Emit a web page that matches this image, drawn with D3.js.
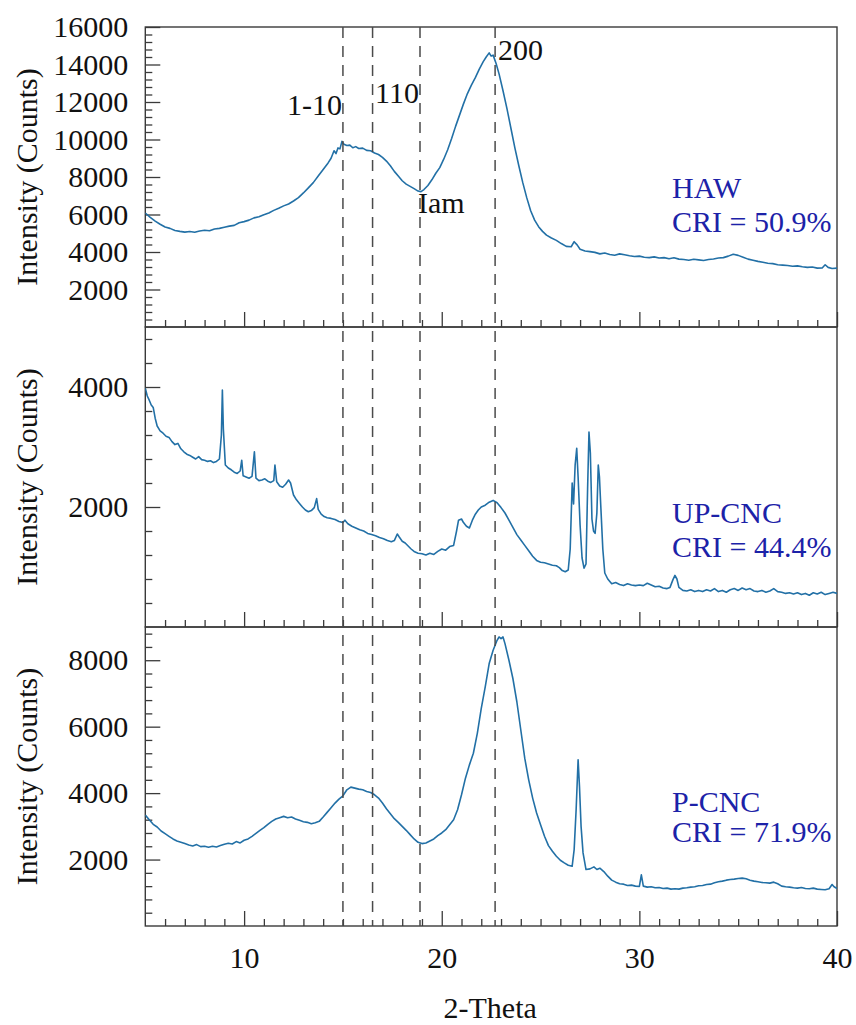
<!DOCTYPE html>
<html><head><meta charset="utf-8">
<script src="https://cdn.jsdelivr.net/npm/d3@7"></script>
<style>
body{margin:0;background:#fff;}
svg text{font-family:"Liberation Serif","Times New Roman",serif !important;}
</style></head>
<body><svg id="c" width="856" height="1025"></svg>
<script>
// ---------- data (2-Theta, Intensity counts) ----------
const hawData = [
[5.0,6080],[5.25,5850],[5.5,5650],[5.75,5480],[6.0,5330],[6.25,5260],[6.5,5150],[6.75,5100],[7.0,5060],[7.25,5090],
[7.5,5050],[7.75,5120],[8.0,5160],[8.25,5130],[8.5,5230],[8.75,5260],[9.0,5320],[9.25,5380],[9.5,5420],[9.75,5560],
[10.0,5620],[10.25,5700],[10.5,5820],[10.75,5880],[11.0,5990],[11.25,6080],[11.5,6220],[11.75,6330],[12.0,6460],[12.25,6560],
[12.5,6720],[12.75,6900],[13.0,7150],[13.25,7420],[13.5,7700],[13.75,8050],[14.0,8400],[14.25,8750],[14.4,9000],[14.55,9400],
[14.65,9250],[14.75,9550],[14.85,9500],[14.95,9900],[15.05,9750],[15.2,9680],[15.35,9700],[15.5,9560],[15.65,9620],[15.8,9520],
[16.0,9540],[16.2,9420],[16.4,9400],[16.6,9280],[16.8,9200],[17.0,9050],[17.2,8850],[17.4,8600],[17.6,8300],[17.8,8050],
[18.0,7800],[18.2,7620],[18.4,7500],[18.6,7380],[18.8,7250],[18.95,7220],[19.1,7330],[19.3,7550],[19.5,7850],[19.7,8200],
[19.9,8500],[20.1,8950],[20.3,9450],[20.5,10050],[20.7,10700],[20.9,11300],[21.1,11900],[21.3,12450],[21.5,12900],[21.7,13300],
[21.9,13750],[22.1,14150],[22.25,14400],[22.4,14620],[22.5,14450],[22.6,14500],[22.75,14050],[22.9,13500],[23.1,12600],[23.3,11650],
[23.5,10600],[23.7,9550],[23.9,8600],[24.1,7700],[24.3,6900],[24.5,6200],[24.7,5700],[24.9,5350],[25.1,5100],[25.3,4900],
[25.55,4750],[25.8,4620],[26.05,4450],[26.3,4300],[26.55,4280],[26.7,4550],[26.85,4380],[27.0,4150],[27.25,4050],[27.5,4020],
[27.75,3980],[28.0,3900],[28.25,3950],[28.5,3870],[28.75,3830],[29.0,3900],[29.25,3850],[29.5,3800],[29.75,3760],[30.0,3780],
[30.25,3720],[30.5,3700],[30.75,3740],[31.0,3680],[31.25,3700],[31.5,3640],[31.75,3690],[32.0,3620],[32.25,3600],[32.5,3560],
[32.75,3610],[33.0,3580],[33.25,3550],[33.5,3600],[33.75,3630],[34.0,3680],[34.25,3700],[34.5,3780],[34.75,3880],[35.0,3820],
[35.25,3720],[35.5,3620],[35.75,3560],[36.0,3500],[36.25,3450],[36.5,3400],[36.75,3380],[37.0,3320],[37.25,3300],[37.5,3280],
[37.75,3240],[38.0,3260],[38.25,3210],[38.5,3180],[38.75,3200],[39.0,3140],[39.25,3150],[39.4,3320],[39.55,3180],[39.75,3120],[40.0,3140]
];
const upData = [
[5.0,3980],[5.1,3850],[5.2,3780],[5.3,3700],[5.4,3660],[5.5,3480],[5.6,3350],[5.75,3270],[5.9,3230],[6.05,3180],
[6.2,3160],[6.35,3090],[6.5,3040],[6.65,3060],[6.8,2970],[6.95,2920],[7.1,2880],[7.25,2860],[7.4,2830],[7.55,2800],
[7.7,2840],[7.85,2790],[8.0,2780],[8.15,2760],[8.3,2770],[8.45,2740],[8.6,2760],[8.75,2800],[8.85,3200],[8.9,3950],
[8.95,3300],[9.05,2700],[9.2,2650],[9.35,2620],[9.5,2580],[9.65,2560],[9.8,2600],[9.88,2780],[9.95,2520],[10.1,2500],
[10.25,2480],[10.4,2510],[10.52,2920],[10.6,2480],[10.75,2440],[10.9,2450],[11.05,2470],[11.2,2430],[11.35,2410],[11.5,2440],
[11.56,2700],[11.65,2420],[11.8,2350],[11.95,2330],[12.1,2380],[12.25,2450],[12.35,2400],[12.5,2200],[12.65,2120],[12.8,2060],
[12.95,2000],[13.1,1950],[13.25,1920],[13.4,1940],[13.55,1990],[13.67,2140],[13.75,1960],[13.9,1880],[14.05,1840],[14.2,1820],
[14.4,1810],[14.6,1790],[14.8,1760],[15.0,1740],[15.1,1780],[15.25,1720],[15.45,1680],[15.65,1650],[15.85,1620],[16.05,1600],
[16.25,1560],[16.45,1540],[16.65,1520],[16.85,1490],[17.05,1470],[17.25,1440],[17.45,1420],[17.6,1440],[17.75,1550],[17.85,1500],
[18.0,1430],[18.15,1400],[18.3,1350],[18.45,1300],[18.6,1260],[18.8,1230],[19.0,1220],[19.2,1200],[19.4,1230],[19.6,1210],
[19.8,1260],[20.0,1300],[20.2,1280],[20.4,1340],[20.6,1360],[20.75,1600],[20.85,1780],[21.0,1800],[21.1,1740],[21.25,1680],
[21.4,1650],[21.55,1780],[21.7,1880],[21.85,1950],[22.0,2000],[22.2,2030],[22.4,2080],[22.6,2110],[22.8,2070],[23.0,1990],
[23.2,1900],[23.4,1780],[23.6,1660],[23.8,1540],[24.0,1450],[24.2,1360],[24.4,1270],[24.6,1180],[24.8,1110],[25.0,1080],
[25.2,1070],[25.4,1050],[25.6,1030],[25.8,1020],[25.95,990],[26.1,940],[26.25,920],[26.4,950],[26.5,1300],[26.6,2400],
[26.67,2050],[26.75,2700],[26.83,2980],[26.9,2500],[27.0,1700],[27.1,1150],[27.2,980],[27.3,1050],[27.38,2300],[27.45,3250],
[27.52,2900],[27.6,1800],[27.68,1600],[27.76,1560],[27.85,1900],[27.92,2700],[27.98,2500],[28.05,2000],[28.15,1300],[28.25,900],
[28.4,800],[28.6,720],[28.8,740],[29.0,710],[29.2,690],[29.4,720],[29.6,700],[29.8,690],[30.0,700],[30.2,690],
[30.4,730],[30.6,700],[30.8,670],[31.0,680],[31.2,650],[31.4,640],[31.55,660],[31.7,790],[31.8,860],[31.9,800],
[32.0,660],[32.2,610],[32.4,600],[32.6,620],[32.8,590],[33.0,610],[33.2,590],[33.4,620],[33.6,600],[33.8,640],
[34.0,590],[34.2,610],[34.4,580],[34.6,620],[34.8,640],[35.0,610],[35.2,650],[35.4,620],[35.6,640],[35.8,600],
[36.0,590],[36.2,610],[36.4,580],[36.6,600],[36.8,640],[37.0,590],[37.2,580],[37.4,560],[37.6,570],[37.8,550],
[38.0,570],[38.2,540],[38.4,560],[38.6,530],[38.8,570],[39.0,550],[39.2,580],[39.4,540],[39.6,560],[39.8,580],[40.0,560]
];
const pData = [
[5.0,3340],[5.2,3200],[5.4,3060],[5.6,2980],[5.8,2860],[6.0,2780],[6.2,2700],[6.4,2620],[6.6,2560],[6.8,2520],
[7.0,2480],[7.2,2440],[7.4,2410],[7.6,2450],[7.8,2390],[8.0,2400],[8.2,2370],[8.4,2400],[8.6,2380],[8.8,2420],
[9.0,2460],[9.2,2490],[9.4,2470],[9.6,2540],[9.8,2500],[10.0,2580],[10.2,2620],[10.4,2700],[10.6,2790],[10.8,2880],
[11.0,2960],[11.2,3060],[11.4,3150],[11.6,3220],[11.8,3260],[12.0,3300],[12.2,3260],[12.4,3280],[12.6,3220],[12.8,3180],
[13.0,3140],[13.2,3120],[13.4,3080],[13.6,3110],[13.8,3150],[14.0,3280],[14.2,3420],[14.4,3560],[14.6,3700],[14.8,3820],
[15.0,3920],[15.2,4100],[15.4,4180],[15.6,4150],[15.8,4120],[16.0,4100],[16.2,4050],[16.4,4020],[16.6,3950],[16.8,3850],
[17.0,3700],[17.2,3530],[17.4,3380],[17.6,3230],[17.8,3120],[18.0,3000],[18.2,2880],[18.4,2750],[18.6,2620],[18.8,2520],
[19.0,2480],[19.2,2500],[19.4,2560],[19.6,2620],[19.8,2720],[20.0,2800],[20.2,2900],[20.4,3050],[20.6,3200],[20.8,3500],
[21.0,3950],[21.2,4450],[21.4,4850],[21.6,5200],[21.8,5800],[22.0,6550],[22.2,7200],[22.4,7900],[22.6,8300],[22.8,8600],
[22.9,8700],[23.0,8650],[23.1,8700],[23.2,8500],[23.4,8000],[23.6,7450],[23.8,6750],[24.0,5900],[24.2,5050],[24.4,4400],
[24.6,3850],[24.8,3400],[25.0,3050],[25.2,2700],[25.4,2420],[25.6,2250],[25.8,2100],[26.0,1980],[26.2,1900],[26.4,1830],
[26.6,1800],[26.7,2300],[26.8,3500],[26.9,5000],[26.97,4200],[27.05,3000],[27.15,2200],[27.3,1700],[27.5,1720],[27.7,1780],
[27.85,1700],[28.0,1740],[28.2,1640],[28.4,1500],[28.6,1380],[28.8,1320],[29.0,1270],[29.2,1260],[29.4,1220],[29.6,1230],
[29.8,1200],[30.0,1190],[30.1,1540],[30.2,1200],[30.4,1170],[30.6,1180],[30.8,1150],[31.0,1160],[31.2,1130],[31.4,1140],
[31.6,1110],[31.8,1120],[32.0,1110],[32.2,1140],[32.4,1150],[32.6,1170],[32.8,1180],[33.0,1210],[33.2,1220],[33.4,1250],
[33.6,1260],[33.8,1300],[34.0,1330],[34.2,1350],[34.4,1380],[34.6,1400],[34.8,1410],[35.0,1430],[35.2,1440],[35.4,1420],
[35.6,1380],[35.8,1350],[36.0,1330],[36.2,1310],[36.4,1300],[36.6,1290],[36.8,1320],[37.0,1270],[37.2,1200],[37.4,1180],
[37.6,1170],[37.8,1150],[38.0,1140],[38.2,1160],[38.4,1130],[38.6,1120],[38.8,1140],[39.0,1110],[39.2,1100],[39.4,1090],
[39.6,1120],[39.75,1250],[39.85,1180],[40.0,1130]
];
const sampleNames = ["HAW","UP-CNC","P-CNC"];
const criValues = ["CRI = 50.9%","CRI = 44.4%","CRI = 71.9%"];
const yMaxes = [16000, 5000, 9000];
const yMajorTicks = [[2000,4000,6000,8000,10000,12000,14000,16000],[2000,4000],[2000,4000,6000,8000]];
const yMinorStep = 400;
const xDomain = [5, 40];
const xMajorTicks = [10,20,30,40];
const refLines = [15.0, 16.5, 18.9, 22.7];
const refLabels = ["1-10","110","Iam","200"];

// ---------- layout ----------
const svg = d3.select("#c");
const left = 145.3, right = 837;
const panelTops = [27, 327, 627], panelBottoms = [327, 627, 926];
const lineColor = "#2270a6", blue = "#1c22a8", frameColor = "#3a3a3a";
const fontF = "'Liberation Serif', 'Times New Roman', serif";

const x = d3.scaleLinear().domain(xDomain).range([left, right]);
const datasets = [hawData, upData, pData];
const xMinor = d3.range(6, 40, 1).filter(v => !xMajorTicks.includes(v));

function serif(sel, size, color) {
  return sel.style("font-family", fontF).style("font-size", size + "px").attr("fill", color);
}

datasets.forEach((data, i) => {
  const top = panelTops[i], bot = panelBottoms[i];
  const y = d3.scaleLinear().domain([0, yMaxes[i]]).range([bot, top]);
  const g = svg.append("g");

  svg.append("clipPath").attr("id", "clip"+i).append("rect")
     .attr("x", left).attr("y", top).attr("width", right-left).attr("height", bot-top);

  // minor y ticks
  const yMinor = d3.range(yMinorStep, yMaxes[i], yMinorStep).filter(v => !yMajorTicks[i].includes(v));
  g.append("g").attr("transform", `translate(${left},0)`)
    .call(d3.axisLeft(y).tickValues(yMinor).tickSize(-7).tickFormat(""))
    .call(a => a.select(".domain").remove())
    .selectAll("line").attr("stroke", frameColor).attr("stroke-width", 1.3);
  // major y ticks
  const ya = g.append("g").attr("transform", `translate(${left},0)`)
    .call(d3.axisLeft(y).tickValues(yMajorTicks[i]).tickSize(-15).tickPadding(17).tickFormat(d3.format("d")));
  ya.select(".domain").remove();
  ya.selectAll("line").attr("stroke", frameColor).attr("stroke-width", 1.3);
  serif(ya.selectAll("text"), 30, "#111");

  // x ticks
  g.append("g").attr("transform", `translate(0,${bot})`)
    .call(d3.axisBottom(x).tickValues(xMinor).tickSize(-7).tickFormat(""))
    .call(a => a.select(".domain").remove())
    .selectAll("line").attr("stroke", frameColor).attr("stroke-width", 1.3);
  const xa = g.append("g").attr("transform", `translate(0,${bot})`)
    .call(d3.axisBottom(x).tickValues(xMajorTicks).tickSize(-15).tickPadding(21)
      .tickFormat(i === 2 ? d3.format("d") : ""));
  xa.select(".domain").remove();
  xa.selectAll("line").attr("stroke", frameColor).attr("stroke-width", 1.3);
  serif(xa.selectAll("text"), 30, "#111");

  // frame
  g.append("rect").attr("x", left).attr("y", top).attr("width", right-left).attr("height", bot-top)
    .attr("fill", "none").attr("stroke", frameColor).attr("stroke-width", 1.4);

  // curve
  const line = d3.line().x(d => x(d[0])).y(d => y(d[1]));
  g.append("path").datum(data).attr("d", line).attr("clip-path", `url(#clip${i})`)
    .attr("fill", "none").attr("stroke", lineColor).attr("stroke-width", 1.6).attr("stroke-linejoin", "round");

  // y title
  serif(svg.append("text").attr("transform", `translate(37,${(top+bot)/2}) rotate(-90)`)
    .attr("text-anchor", "middle"), 30, "#111").text("Intensity (Counts)");

  // sample labels
  const lblY = [[198, 232], [523, 557], [812, 842]][i];
  serif(svg.append("text").attr("x", 672).attr("y", lblY[0]), 30, blue).text(sampleNames[i]);
  serif(svg.append("text").attr("x", 672).attr("y", lblY[1]), 30, blue).text(criValues[i]);
});

// reference dashed lines across all panels
svg.append("g").selectAll("line").data(refLines).join("line")
  .attr("x1", d => x(d)).attr("x2", d => x(d)).attr("y1", panelTops[0]).attr("y2", panelBottoms[2])
  .attr("stroke", "#4a4a4a").attr("stroke-width", 1.5).attr("stroke-dasharray", "11,8");

// peak labels
const refLabelPos = [[287,115],[375,103],[418,213],[498,60]];
serif(svg.append("g").selectAll("text").data(refLabels).join("text")
  .attr("x", (d,k) => refLabelPos[k][0]).attr("y", (d,k) => refLabelPos[k][1]), 30, "#111").text(d => d);

// x title
serif(svg.append("text").attr("x", (left+right)/2 - 1).attr("y", 1018).attr("text-anchor", "middle"), 30, "#111")
  .text("2-Theta");
</script></body></html>
